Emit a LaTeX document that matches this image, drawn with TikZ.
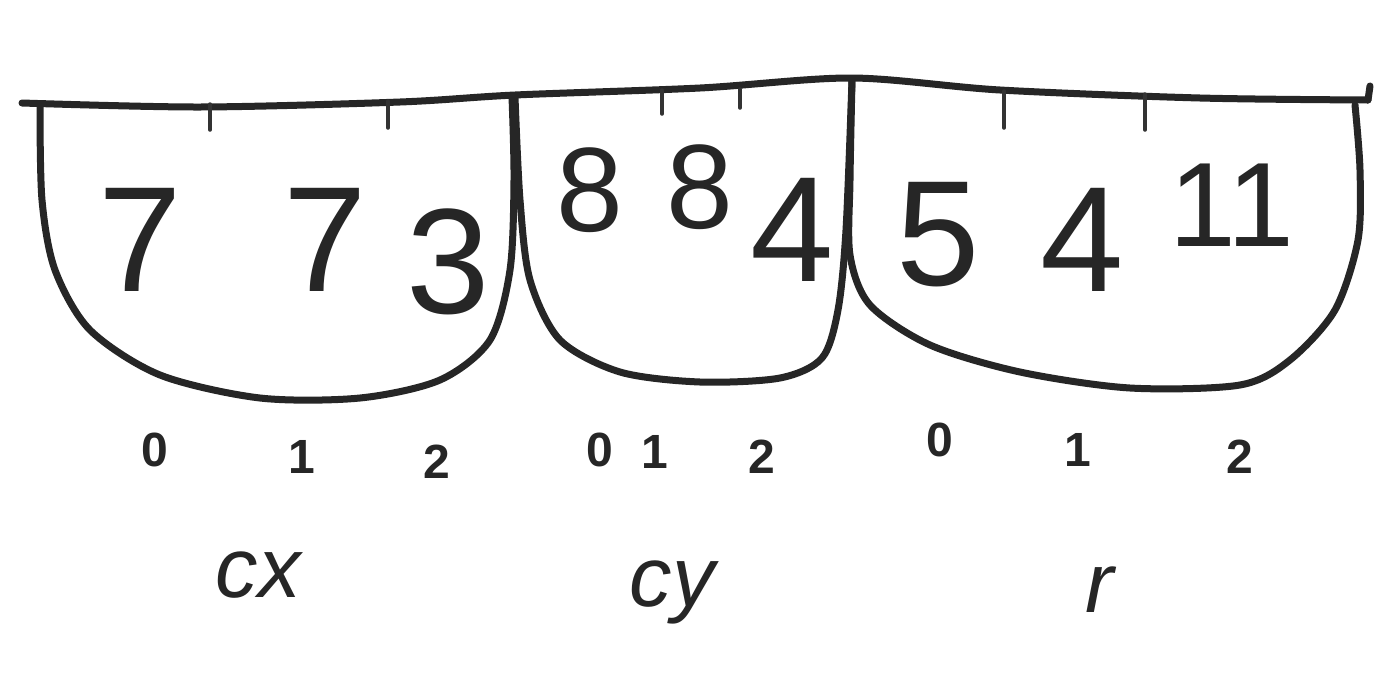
\documentclass[tikz,border=0pt]{standalone}
\usepackage{fontspec}
\setmainfont{Liberation Sans}
\begin{document}
\begin{tikzpicture}[x=1pt,y=-1pt,
  ink/.style={line width=7pt,line cap=round,line join=round,black!85},
  thin ink/.style={line width=3.5pt,line cap=round,black!80},
  big/.style={font=\fontsize{150}{150}\selectfont,inner sep=0pt,text=black!85},
  mid/.style={font=\fontsize{120}{120}\selectfont,inner sep=0pt,text=black!85},
  idx/.style={font=\fontsize{48}{48}\selectfont\bfseries,inner sep=0pt,text=black!85},
  lbl/.style={font=\fontsize{85}{85}\selectfont\itshape,inner sep=0pt,text=black!85}]
\fill[white] (0,0) rectangle (1390,673);
\useasboundingbox (0,0) rectangle (1390,673);
% top line
\draw[ink] plot[smooth] coordinates {(22,103) (200,107) (400,102) (515,95) (700,88) (852,78) (1000,90) (1200,98) (1368,100)};
\draw[ink] (1368,100) -- (1370,86);
% ticks
\draw[thin ink] (210,104) -- (210,130);
\draw[thin ink] (388,101) -- (388,128);
\draw[thin ink] (662,90) -- (662,114);
\draw[thin ink] (740,89) -- (740,108);
\draw[thin ink] (1004,91) -- (1004,128);
\draw[thin ink] (1145,94) -- (1145,130);
% cups
\draw[ink] plot[smooth] coordinates {(40,105) (42,200) (55,270) (90,330) (160,375) (260,398) (360,398) (440,380) (490,340) (510,270) (514,180) (512,97)};
\draw[ink] plot[smooth] coordinates {(515,97) (520,200) (530,280) (560,340) (620,372) (700,382) (780,378) (822,358) (838,310) (846,230) (852,80)};
\draw[ink] plot[smooth] coordinates {(852,80) (850,180) (850,255) (870,305) (930,345) (1020,372) (1130,388) (1240,385) (1290,360) (1335,310) (1358,240) (1360,170) (1355,105)};
% values
\node[big] (a0) at (140,240) {7};
\node[big] (a1) at (325,240) {7};
\node[big] (a2) at (448,262) {3};
\node[mid] (b0) at (590,190) {8};
\node[mid] (b1) at (700,187) {8};
\node[big] (b2) at (792,230) {4};
\node[big] (c0) at (938,235) {5};
\node[big] (c1) at (1082,240) {4};
\node[mid] (c2) at (1232,205) {11};
% indices
\node[idx] (i0) at (155,450) {0};
\node[idx] (i1) at (302,457) {1};
\node[idx] (i2) at (437,462) {2};
\node[idx] (j0) at (600,450) {0};
\node[idx] (j1) at (655,452) {1};
\node[idx] (j2) at (762,457) {2};
\node[idx] (k0) at (940,440) {0};
\node[idx] (k1) at (1078,450) {1};
\node[idx] (k2) at (1240,457) {2};
% labels
\node[lbl] (lx) at (258,575) {cx};
\node[lbl] (ly) at (672,592) {cy};
\node[lbl] (lr) at (1100,590) {r};
\end{tikzpicture}
\end{document}
